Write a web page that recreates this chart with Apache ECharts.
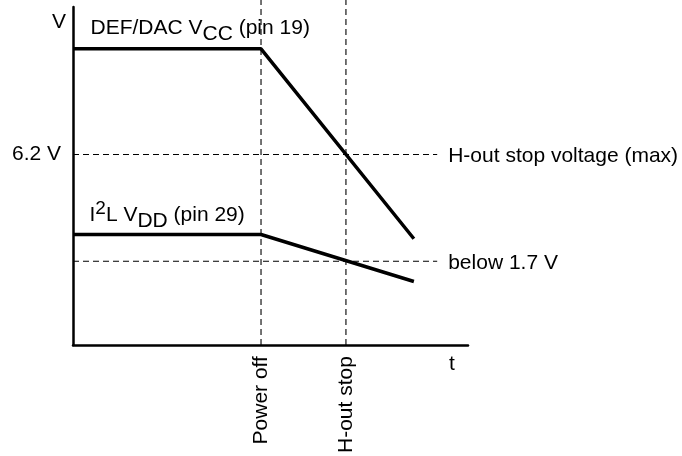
<!DOCTYPE html>
<html>
<head>
<meta charset="utf-8">
<script src="https://cdn.jsdelivr.net/npm/echarts@6/dist/echarts.min.js"></script>
<style>
html,body{margin:0;padding:0;background:#fff;}
#chart{width:682px;height:456px;}
</style>
</head>
<body>
<div id="chart"></div>
<script>
// ---- data (schematic units) ----
const tPoints = [0, 47.6, 86.3];          // time points of the supply curves
const vccValues = [9.64, 9.64, 3.46];     // DEF/DAC VCC (pin 19)
const vddValues = [3.6, 3.6, 2.07];       // I2L VDD (pin 29)
const eventTimes = [47.6, 69.1];          // Power off, H-out stop
const eventLabels = ['Power off', 'H-out stop'];
const thresholdValues = [6.2, 2.73];      // H-out stop voltage, 1.7 V level
const thresholdLabels = ['H-out stop voltage (max)', 'below 1.7 V'];
const yTickValues = [6.2];
const yTickLabels = ['6.2 V'];
const guideEnd = 92.2;                    // end of horizontal guides
const guideTop = 11.23;                   // top of vertical guides
const xMax = 100, yMax = 11;

const FONT = "'Liberation Sans', Arial, Helvetica, sans-serif";
const FS = 21;
const chart = echarts.init(document.getElementById('chart'), null, {renderer: 'canvas'});

const dash = {color: '#000', width: 1.1, type: [6, 4]};
const series = [];

// vertical guides
eventTimes.forEach(function (t) {
  series.push({
    type: 'line', silent: true, clip: false, symbol: 'none', animation: false,
    lineStyle: dash,
    data: [[t, 0], [t, guideTop]]
  });
});
// horizontal guides
thresholdValues.forEach(function (v, i) {
  series.push({
    type: 'line', silent: true, symbol: 'none', animation: false,
    lineStyle: dash,
    data: [[0, v], [guideEnd, v]],
    endLabel: {
      show: true, formatter: thresholdLabels[i], distance: 11, offset: [0, 2],
      color: '#000', fontSize: FS, fontFamily: FONT
    }
  });
});

const rich = {
  n: {fontSize: FS, lineHeight: FS, fontFamily: FONT, color: '#000', verticalAlign: 'middle'},
  s: {fontSize: FS, lineHeight: FS, fontFamily: FONT, color: '#000', verticalAlign: 'middle', padding: [12, 0, 0, 0]},
  p: {fontSize: 19, lineHeight: 19, fontFamily: FONT, color: '#000', verticalAlign: 'middle', padding: [0, 0, 12, 0]}
};
function mp(x, y, text, pos) {
  return {
    symbol: 'circle', symbolSize: 1, silent: true, animation: false,
    itemStyle: {color: 'rgba(0,0,0,0)'},
    label: {show: true, position: pos, align: 'left', verticalAlign: 'middle', formatter: text, rich: rich},
    data: [{coord: [x, y]}]
  };
}

series.push({
  name: 'DEF/DAC VCC', type: 'line', symbol: 'none', animation: false,
  lineStyle: {color: '#000', width: 3.5},
  data: tPoints.map(function (t, i) { return [t, vccValues[i]]; }),
  markPoint: mp(tPoints[0], vccValues[0], '{n|DEF/DAC V}{s|CC}{n| (pin 19)}', [18, -20])
});
series.push({
  name: 'I2L VDD', type: 'line', symbol: 'none', animation: false,
  lineStyle: {color: '#000', width: 3.5},
  data: tPoints.map(function (t, i) { return [t, vddValues[i]]; }),
  markPoint: mp(tPoints[0], vddValues[0], '{n|I}{p|2}{n|L V}{s|DD}{n| (pin 29)}', [17, -19])
});

chart.setOption({
  backgroundColor: '#fff',
  animation: false,
  grid: {left: 73, top: 7, right: 214, bottom: 109, containLabel: false},
  xAxis: {
    type: 'value', min: 0, max: xMax,
    name: 't', nameLocation: 'end', nameGap: -16,
    nameTextStyle: {color: '#000', fontSize: FS, fontFamily: FONT, align: 'center', verticalAlign: 'top', padding: [9, 0, 0, 0]},
    axisLine: {show: true, lineStyle: {color: '#000', width: 2.5}},
    axisTick: {show: false},
    splitLine: {show: false},
    axisLabel: {
      customValues: eventTimes, rotate: 90, margin: 11,
      color: '#000', fontSize: FS, fontFamily: FONT,
      formatter: function (v) { const i = eventTimes.indexOf(v); return i >= 0 ? eventLabels[i] : ''; }
    }
  },
  yAxis: {
    type: 'value', min: 0, max: yMax,
    name: 'V', nameLocation: 'end', nameGap: -15,
    nameTextStyle: {color: '#000', fontSize: FS, fontFamily: FONT, align: 'right', verticalAlign: 'middle', padding: [0, 7, 0, 0]},
    axisLine: {show: true, lineStyle: {color: '#000', width: 2.5}},
    axisTick: {show: false},
    splitLine: {show: false},
    axisLabel: {
      customValues: yTickValues, margin: 12,
      color: '#000', fontSize: FS, fontFamily: FONT,
      formatter: function (v) { const i = yTickValues.indexOf(v); return i >= 0 ? yTickLabels[i] : ''; }
    }
  },
  series: series
});
</script>
</body>
</html>
